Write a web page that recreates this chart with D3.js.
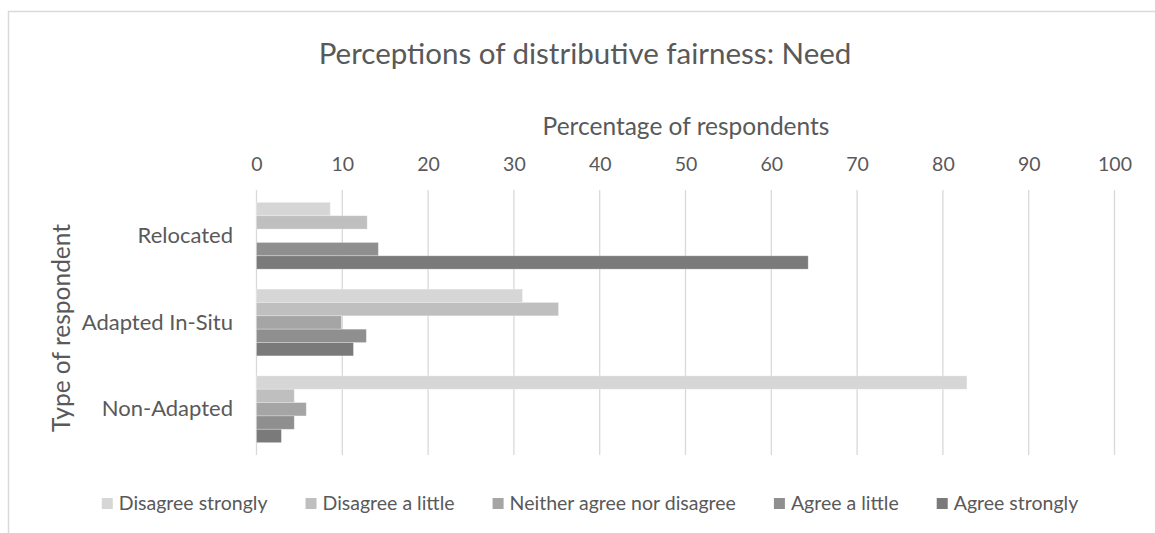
<!DOCTYPE html>
<html>
<head>
<meta charset="utf-8">
<script src="https://cdn.jsdelivr.net/npm/d3@7"></script>
<style>
  body { margin: 0; background: #fff; }
  text { font-family: Lato, "Open Sans", sans-serif; fill: #595959; }
</style>
</head>
<body>
<div id="chart"></div>
<script>
// Data
const categories = ["Relocated", "Adapted In-Situ", "Non-Adapted"];
const seriesNames = ["Disagree strongly", "Disagree a little", "Neither agree nor disagree", "Agree a little", "Agree strongly"];
const disagreeStrongly = [8.6, 31.0, 82.8];
const disagreeLittle = [12.9, 35.2, 4.4];
const neither = [0, 9.9, 5.8];
const agreeLittle = [14.2, 12.8, 4.4];
const agreeStrongly = [64.3, 11.3, 2.9];
const xTicks = [0, 10, 20, 30, 40, 50, 60, 70, 80, 90, 100];
const colors = ["#d6d6d6", "#bfbfbf", "#a5a5a5", "#8f8f8f", "#7a7a7a"];

const seriesValues = [disagreeStrongly, disagreeLittle, neither, agreeLittle, agreeStrongly];

const W = 1155, H = 533;
const plot = { left: 256.5, right: 1114.5, top: 190, bottom: 455 };

const svg = d3.select("#chart").append("svg")
  .attr("width", W)
  .attr("height", H);

// Chart border
svg.append("rect")
  .attr("x", 8.5).attr("y", 11.5)
  .attr("width", W + 20).attr("height", H + 20)
  .attr("fill", "#fff")
  .attr("stroke", "#d9d9d9")
  .attr("stroke-width", 1.5);

// Scales
const x = d3.scaleLinear().domain([0, 100]).range([plot.left, plot.right]);
const y = d3.scaleBand().domain(categories).range([plot.top, plot.bottom])
  .paddingInner(0.23).paddingOuter(0.1425);
const ySub = d3.scaleBand().domain(seriesNames).range([0, y.bandwidth()]);

// Gridlines
svg.append("g")
  .selectAll("line")
  .data(xTicks)
  .join("line")
    .attr("x1", d => x(d)).attr("x2", d => x(d))
    .attr("y1", plot.top).attr("y2", plot.bottom)
    .attr("stroke", "#d9d9d9")
    .attr("stroke-width", 1.3);

// Bars
const rows = [];
categories.forEach((c, i) => {
  seriesNames.forEach((s, j) => {
    rows.push({ cat: c, series: s, idx: j, value: seriesValues[j][i] });
  });
});

svg.append("g")
  .selectAll("rect")
  .data(rows.filter(d => d.value > 0))
  .join("rect")
    .attr("x", x(0))
    .attr("y", d => y(d.cat) + ySub(d.series))
    .attr("width", d => x(d.value) - x(0))
    .attr("height", ySub.bandwidth())
    .attr("fill", d => colors[d.idx])
    .attr("stroke", "#ffffff")
    .attr("stroke-opacity", 0.35)
    .attr("stroke-width", 0.8);

// Top axis tick labels
const xAxis = svg.append("g")
  .attr("transform", "translate(0," + 171 + ")")
  .call(d3.axisTop(x).tickValues(xTicks).tickSize(0).tickPadding(0));
xAxis.select(".domain").remove();
xAxis.selectAll("text")
  .style("font-size", "19.5px")
  .attr("fill", "#595959");

// Category labels
const yAxis = svg.append("g")
  .attr("transform", "translate(" + 233 + ",0)")
  .call(d3.axisLeft(y).tickSize(0).tickPadding(0));
yAxis.select(".domain").remove();
yAxis.selectAll("text")
  .style("font-size", "22px")
  .attr("fill", "#595959");

// Title
svg.append("text")
  .attr("x", 585).attr("y", 64)
  .style("text-anchor", "middle")
  .style("font-size", "29.5px")
  .text("Perceptions of distributive fairness: Need");

// X-Axis title
svg.append("text")
  .attr("x", 686).attr("y", 135)
  .style("text-anchor", "middle")
  .style("font-size", "24.5px")
  .text("Percentage of respondents");

// Y-Axis title
svg.append("text")
  .attr("transform", "translate(" + 70 + "," + 328 + ") rotate(-90)")
  .style("text-anchor", "middle")
  .style("font-size", "24.5px")
  .text("Type of respondent");

// Legend
const legend = svg.append("g");
const items = legend.selectAll("g")
  .data(seriesNames)
  .join("g");
items.append("rect")
  .attr("width", 11).attr("height", 11)
  .attr("y", -12)
  .attr("fill", (d, i) => colors[i]);
items.append("text")
  .attr("x", 17)
  .attr("y", 0)
  .style("font-size", "19.5px")
  .text(d => d);

let offset = 0;
items.each(function() {
  const w = this.querySelector("text").getComputedTextLength() + 17;
  d3.select(this).attr("data-w", w);
});
const gap = 38;
items.attr("transform", function() {
  const t = "translate(" + offset + ",0)";
  offset += +this.getAttribute("data-w") + gap;
  return t;
});
const totalW = offset - gap;
legend.attr("transform", "translate(" + (590 - totalW / 2) + "," + 510 + ")");
</script>
</body>
</html>
